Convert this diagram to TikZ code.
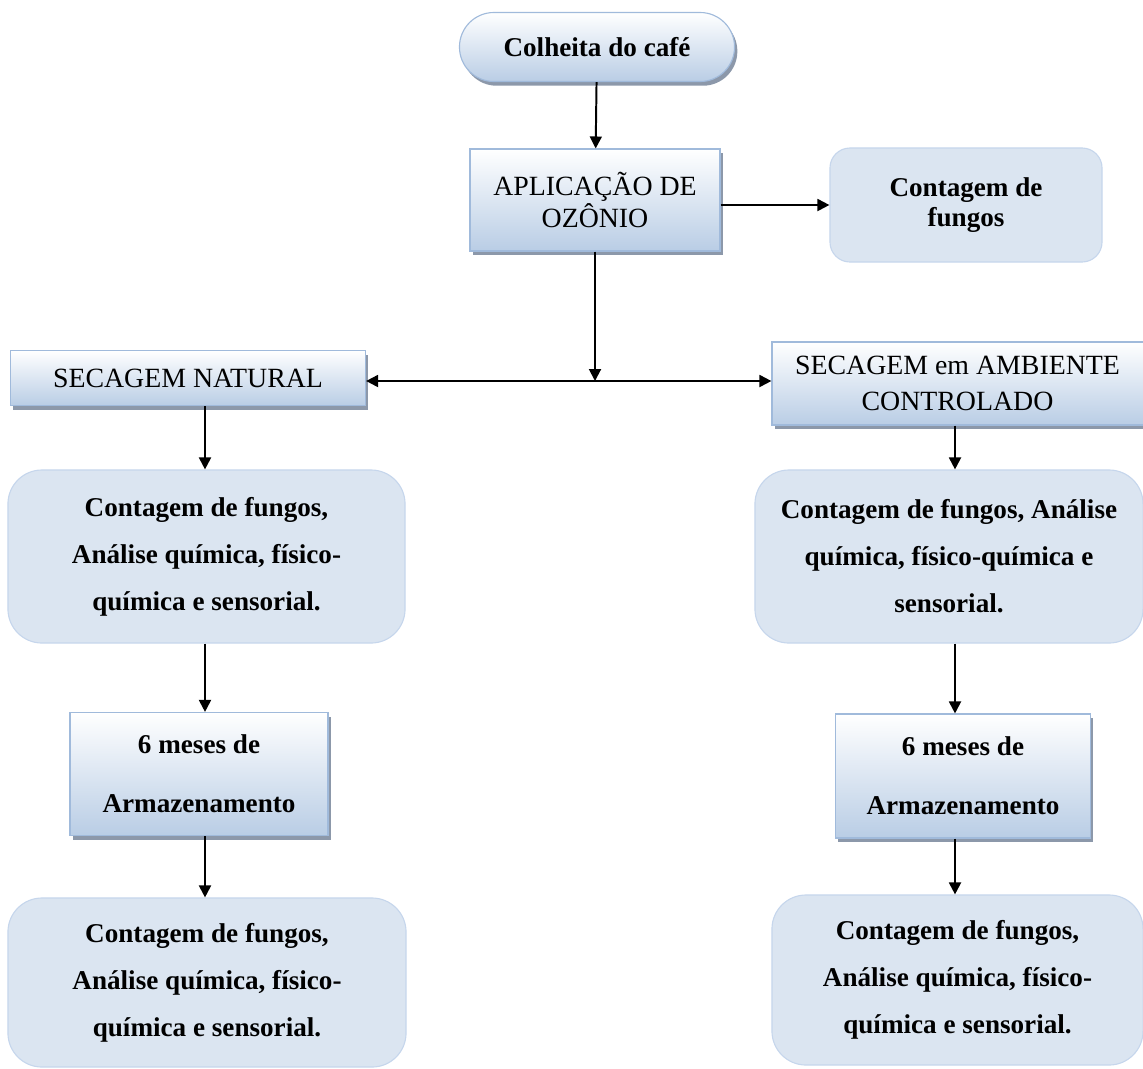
\documentclass[tikz,border=0pt]{standalone}
\usepackage{fontspec}
\setmainfont{Liberation Serif}
\usetikzlibrary{arrows.meta,positioning,calc,shadows}

\definecolor{boxblue}{RGB}{185,205,229}
\definecolor{edgeblue}{RGB}{160,186,219}
\definecolor{paleblue}{RGB}{219,229,241}
\definecolor{softedge}{RGB}{198,214,236}
\definecolor{shadowgray}{RGB}{140,152,170}

\begin{document}
\begin{tikzpicture}[
        x=0.025cm, y=-0.025cm,
        flow/.style={black, line width=1.4pt, -{Triangle[width=8.5pt,length=8.5pt]}},
        twoway/.style={black, line width=1.4pt,
            {Triangle[width=8.5pt,length=8.5pt]}-{Triangle[width=8.5pt,length=8.5pt]}},
        grad/.style={draw=edgeblue, line width=0.8pt, top color=white,
            bottom color=boxblue, align=center, inner sep=0pt,
            drop shadow={shadow xshift=2pt, shadow yshift=-3pt,
                fill=shadowgray, opacity=1}},
        soft/.style={draw=softedge, line width=0.8pt, fill=paleblue,
            rounded corners=0.85cm, align=center, inner sep=0pt,
            font=\bfseries\fontsize{19.3}{33.5}\selectfont},
        caps/.style={font=\fontsize{19.8}{23}\selectfont},
        every node/.style={text=black},
    ]
    \useasboundingbox (0,0) rectangle (1143,1068);
    % top of the flow
    \node[grad, rounded corners=0.86cm, minimum width=6.875cm, minimum height=1.725cm,
          font=\bfseries\fontsize{19.3}{23}\selectfont] (harvest) at (597,47) {Colheita do café};
    \node[grad, caps, minimum width=6.25cm, minimum height=2.55cm] (ozone) at (595,200)
          {APLICAÇÃO DE\\OZÔNIO};
    \node[soft, rounded corners=0.5cm, minimum width=6.8cm, minimum height=2.85cm,
          font=\bfseries\fontsize{19.3}{21.5}\selectfont] (fungi) at (966,205) {Contagem de\\fungos};
    % the two drying ways
    \node[grad, caps, minimum width=8.875cm, minimum height=1.375cm] (secnat) at (188,378)
          {SECAGEM NATURAL};
    \node[grad, caps, font=\fontsize{19.8}{26}\selectfont, minimum width=9.275cm,
          minimum height=2.075cm] (secamb) at (957.5,383.5) {SECAGEM em AMBIENTE\\CONTROLADO};
    \node[soft, minimum width=9.925cm, minimum height=4.325cm] (left1) at (206.5,556.5)
          {Contagem de fungos,\\Análise química, físico-\\química e sensorial.};
    \node[soft, minimum width=9.7cm, minimum height=4.325cm] (right1) at (949,556.5)
          {Contagem de fungos, Análise\\química, físico-química e\\sensorial.};
    % storage
    \node[grad, font=\bfseries\fontsize{19.3}{42}\selectfont, minimum width=6.45cm,
          minimum height=3.075cm] (left2) at (199,774) {6 meses de\\Armazenamento};
    \node[grad, font=\bfseries\fontsize{19.3}{42}\selectfont, minimum width=6.375cm,
          minimum height=3.1cm] (right2) at (963,776) {6 meses de\\Armazenamento};
    \node[soft, minimum width=9.95cm, minimum height=4.225cm] (left3) at (207,982.5)
          {Contagem de fungos,\\Análise química, físico-\\química e sensorial.};
    \node[soft, minimum width=9.275cm, minimum height=4.25cm] (right3) at (957.5,980)
          {Contagem de fungos,\\Análise química, físico-\\química e sensorial.};

    \coordinate (split) at (595,381);
    \coordinate (leftcol) at (205,0);
    \coordinate (rightcol) at (955,0);

    % connectors
    \draw[flow] (harvest) -- (ozone);
    \draw[flow] (ozone.east |- fungi.west) -- (fungi.west);
    \draw[flow] (ozone.south) -- (split);
    \draw[twoway] (secnat.east |- split) -- (secamb.west |- split);
    \draw[flow] (secnat.south -| leftcol) -- (left1.north -| leftcol);
    \draw[flow] (left1.south -| leftcol) -- (left2.north -| leftcol);
    \draw[flow] (left2.south -| leftcol) -- (left3.north -| leftcol);
    \draw[flow] (secamb.south -| rightcol) -- (right1.north -| rightcol);
    \draw[flow] (right1.south -| rightcol) -- (right2.north -| rightcol);
    \draw[flow] (right2.south -| rightcol) -- (right3.north -| rightcol);
\end{tikzpicture}
\end{document}
